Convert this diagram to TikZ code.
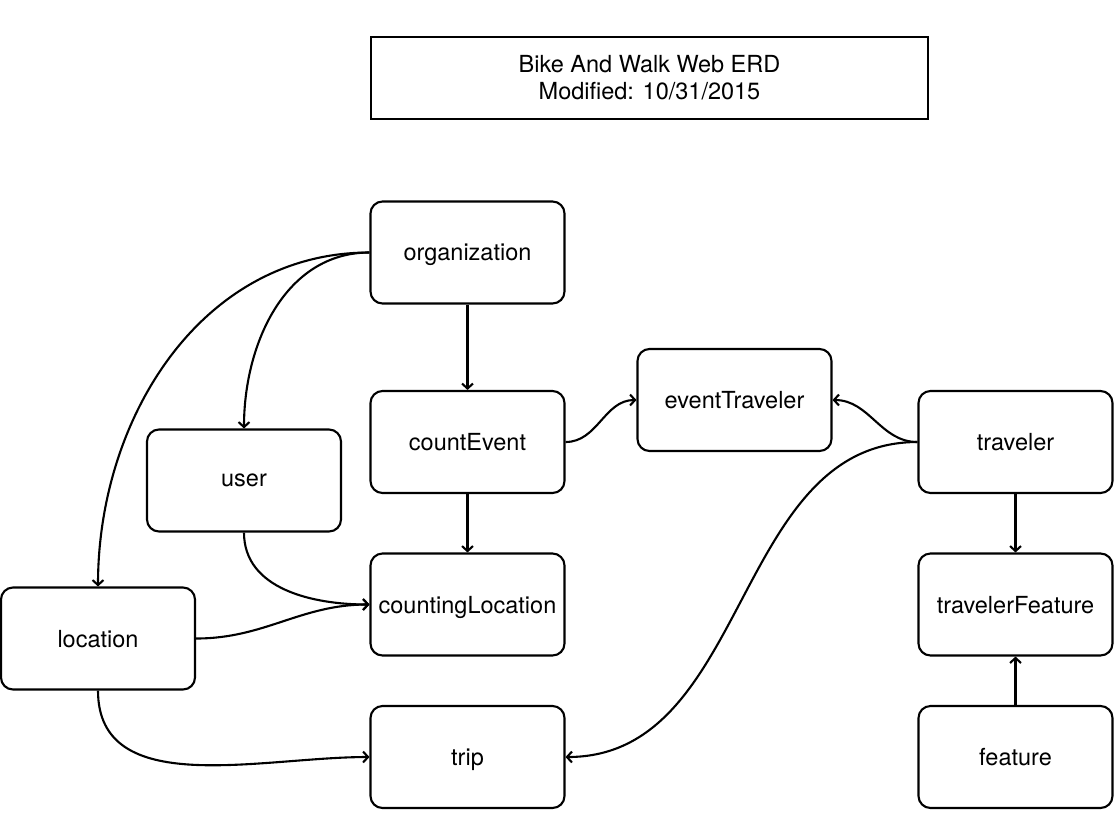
\documentclass[tikz,border=0pt]{standalone}
\usepackage{fontspec}
\setmainfont{TeX Gyre Heros}
\usepackage{tikz}
\usetikzlibrary{positioning, arrows.meta, calc}

\begin{document}
\begin{tikzpicture}[x=1pt, y=1pt, font=\fontsize{23.5}{27}\selectfont, >={Straight Barb[length=5pt, width=11pt]}]
        % common styles
        \tikzset{
            entity/.style={draw, line width=2.1pt, rounded corners=12pt, minimum width=194pt, minimum height=102pt, inner sep=0pt, text depth=0pt},
            titlebox/.style={draw, line width=2.1pt, minimum width=557pt, minimum height=82pt, align=center, inner sep=0pt},
            rel/.style={->, line width=2.1pt}
        }

        % canvas (1115 x 812)
        \useasboundingbox (0,0) rectangle (1115,-812);

        % --- title ---
        \node[titlebox] (title) at (649.5,-78) {Bike And Walk Web ERD\\Modified: 10/31/2015};

        % --- entities ---
        \node[entity] (organization) at (467.5,-252.5) {organization};
        \node[entity] (countEvent) at (467.5,-442) {countEvent};
        \node[entity] (eventTraveler) at (734.5,-400) {eventTraveler};
        \node[entity] (traveler) at (1015.5,-442) {traveler};
        \node[entity] (user) at (244,-480.5) {user};
        \node[entity] (countingLocation) at (467.5,-604.5) {countingLocation};
        \node[entity] (location) at (98,-638.5) {location};
        \node[entity] (travelerFeature) at (1015.5,-604.5) {travelerFeature};
        \node[entity] (trip) at (467.5,-757) {trip};
        \node[entity] (feature) at (1015.5,-757) {feature};

        % --- relations ---
        \draw[rel] (organization) -- (countEvent);
        \draw[rel] (countEvent) -- (countingLocation);
        \draw[rel] (traveler) -- (travelerFeature);
        \draw[rel] (feature) -- (travelerFeature);

        \draw[rel] (organization.west) to[out=180, in=90] (user.north);
        \draw[rel] (organization.west) to[out=180, in=90] (location.north);
        \draw[rel] (countEvent.east) to[out=0, in=180] (eventTraveler.west);
        \draw[rel] (traveler.west) to[out=180, in=0] (eventTraveler.east);
        \draw[rel] (traveler.west) to[out=180, in=0] (trip.east);
        \draw[rel] (user.south) to[out=-90, in=180] (countingLocation.west);
        \draw[rel] (location.east) to[out=0, in=180] (countingLocation.west);
        \draw[rel] (location.south) to[out=-90, in=180] (trip.west);
    \end{tikzpicture}
\end{document}
